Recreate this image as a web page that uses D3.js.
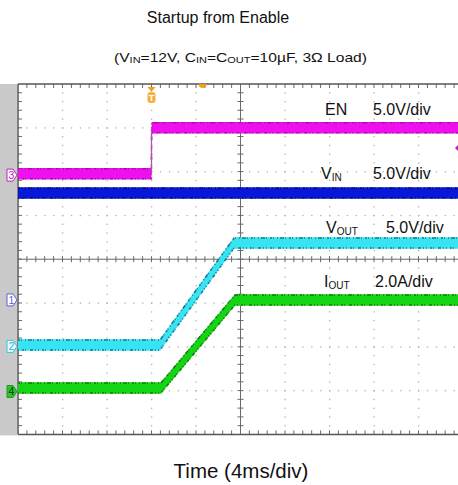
<!DOCTYPE html>
<html><head><meta charset="utf-8">
<script src="https://cdn.jsdelivr.net/npm/d3@7"></script>
<style>body{margin:0;background:#fff}svg{display:block;font-family:"Liberation Sans",Arial,sans-serif}</style>
</head><body><svg id="c" width="458" height="485"></svg>
<script>
// ---------- data ----------
const titleText = "Startup from Enable";
const xAxisLabel = "Time (4ms/div)";
const msPerDiv = 4;
const divsX = 10, divsY = 8;
const channelKeys = ["EN", "VIN", "VOUT", "IOUT"];
const channelNumbers = ["3", "1", "2", "4"];
const channelScales = [5.0, 5.0, 5.0, 2.0];          // units per division
const channelScaleLabels = ["5.0V/div", "5.0V/div", "5.0V/div", "2.0A/div"];
const channelGround = [1.92, -0.93, -1.99, -3.02];  // ground marker, divisions from centre
const triggerTime = 12;      // ms
const triggerLevel = 3.1;    // V on EN
const enTime = [0, 11.99, 12.01, 40];
const enValues = [0.15, 0.15, 5.4, 5.4];
const vinTime = [0, 40];
const vinValues = [12.2, 12.2];
const voutTime = [0, 12.76, 19.42, 40];
const voutValues = [0.15, 0.15, 11.8, 11.8];
const ioutTime = [0, 12.85, 19.5, 40];
const ioutValues = [0.16, 0.16, 4.18, 4.18];

// ---------- layout ----------
const svg = d3.select("#c");
const L = 18, T = 84, B = 434.4, R = 18 + 44.5 * divsX;
const x = d3.scaleLinear().domain([0, msPerDiv * divsX]).range([L, R]);
const yd = d3.scaleLinear().domain([-divsY / 2, divsY / 2]).range([B, T]);
const xd = d3.scaleLinear().domain([0, divsX]).range([L, R]);

svg.append("rect").attr("x", 0).attr("y", T).attr("width", L - 1).attr("height", B - T + 1).attr("fill", "#c9c9c9");

svg.append("defs").append("clipPath").attr("id", "clip")
  .append("rect").attr("x", L).attr("y", T).attr("width", 458 - L).attr("height", B - T);

const grid = svg.append("g");
const dotColor = "#b0b0b0";
for (let i = 1; i < divsX; i++) {
  if (i === divsX / 2) continue;
  for (let k = 1; k < divsY * 5; k++) {
    grid.append("rect").attr("x", xd(i) - 0.5).attr("y", yd(-4 + k / 5) - 0.5).attr("width", 1.3).attr("height", 1.3).attr("fill", dotColor);
  }
}
for (let j = -3; j <= 3; j++) {
  if (j === 0) continue;
  for (let k = 1; k < divsX * 5; k++) {
    grid.append("rect").attr("x", xd(k / 5) - 0.5).attr("y", yd(j) - 0.5).attr("width", 1.3).attr("height", 1.3).attr("fill", dotColor);
  }
}
const axisCol = "#6a6a6a";
grid.append("line").attr("x1", L).attr("x2", 458).attr("y1", yd(0)).attr("y2", yd(0)).attr("stroke", axisCol).attr("stroke-width", 1);
grid.append("line").attr("x1", xd(5)).attr("x2", xd(5)).attr("y1", T).attr("y2", B).attr("stroke", axisCol).attr("stroke-width", 1);
for (let k = 1; k < divsX * 5; k++) {
  grid.append("line").attr("x1", xd(k / 5)).attr("x2", xd(k / 5)).attr("y1", yd(0) - 3).attr("y2", yd(0) + 3).attr("stroke", axisCol);
  grid.append("line").attr("x1", xd(k / 5)).attr("x2", xd(k / 5)).attr("y1", T).attr("y2", T + 4).attr("stroke", axisCol);
  grid.append("line").attr("x1", xd(k / 5)).attr("x2", xd(k / 5)).attr("y1", B - 4).attr("y2", B).attr("stroke", axisCol);
}
for (let k = 1; k < divsY * 5; k++) {
  grid.append("line").attr("y1", yd(-4 + k / 5)).attr("y2", yd(-4 + k / 5)).attr("x1", xd(5) - 3).attr("x2", xd(5) + 3).attr("stroke", axisCol);
  grid.append("line").attr("y1", yd(-4 + k / 5)).attr("y2", yd(-4 + k / 5)).attr("x1", L).attr("x2", L + 4).attr("stroke", axisCol);
}
grid.append("line").attr("x1", L).attr("x2", 458).attr("y1", T).attr("y2", T).attr("stroke", "#555").attr("stroke-width", 1.5);
grid.append("line").attr("x1", L).attr("x2", 458).attr("y1", B).attr("y2", B).attr("stroke", "#555").attr("stroke-width", 1.5);
grid.append("line").attr("x1", L).attr("x2", L).attr("y1", T).attr("y2", B).attr("stroke", "#555").attr("stroke-width", 1.5);

// ---------- traces (noise bands of constant vertical thickness) ----------
const traces = [
  {t: enTime, v: enValues, ch: 0, core: "#ee10ee", edge: "#8a1080"},
  {t: vinTime, v: vinValues, ch: 1, core: "#0818d8", edge: "#0a0a60"},
  {t: voutTime, v: voutValues, ch: 2, core: "#38e4f2", edge: "#0b5070"},
  {t: ioutTime, v: ioutValues, ch: 3, core: "#14d414", edge: "#0b5a0b"}
];
const half = 5.8;
const tg = svg.append("g").attr("clip-path", "url(#clip)");
traces.forEach(tr => {
  const pts = tr.t.map((t, i) => [t, tr.v[i]]);
  const yv = d => yd(channelGround[tr.ch] + d[1] / channelScales[tr.ch]);
  const area = d3.area().x(d => x(d[0])).y0(d => yv(d) + half).y1(d => yv(d) - half);
  tg.append("path").attr("d", area(pts)).attr("fill", tr.core);
  [-half + 0.8, half - 0.8].forEach((off, j) => {
    const ln = d3.line().x(d => x(d[0])).y(d => yv(d) + off);
    tg.append("path").attr("d", ln(pts)).attr("fill", "none").attr("stroke", tr.edge).attr("stroke-width", 1.6)
      .attr("stroke-dasharray", j ? "1 3 2 1 1 4 3 2 1 2" : "2 1 1 3 1 2 4 1 1 3").attr("opacity", 0.75);
  });
});
tg.append("line").attr("x1", x(triggerTime)).attr("x2", x(triggerTime))
  .attr("y1", yd(channelGround[0] + enValues[0] / 5)).attr("y2", yd(channelGround[0] + enValues[2] / 5))
  .attr("stroke", "#b050b0").attr("stroke-width", 1);

// ---------- markers ----------
const tx = x(triggerTime);
svg.append("path").attr("d", `M${tx - 4},${T + 3} L${tx + 4},${T + 3} L${tx},${T + 8} Z`).attr("fill", "#f0a020");
svg.append("rect").attr("x", tx - 4).attr("y", T + 8).attr("width", 8).attr("height", 11).attr("rx", 3).attr("fill", "#f5b040");
svg.append("text").attr("x", tx).attr("y", T + 17).attr("text-anchor", "middle").attr("font-size", 9).attr("font-weight", "bold").attr("fill", "#fff").text("T");
svg.append("path").attr("d", `M${x(16.6) - 4},${T} A4,4 0 0 0 ${x(16.6) + 4},${T} Z`).attr("fill", "#f0a020");
const tly = yd(channelGround[0] + triggerLevel / channelScales[0]);
svg.append("path").attr("d", `M459,${tly - 4} L455,${tly} L459,${tly + 4} Z`).attr("fill", "#c020c0");

const markerStyles = [
  {stroke: "#c020c0", fill: "#fff", txt: "#c020c0"},
  {stroke: "#6060d0", fill: "#fff", txt: "#6060d0"},
  {stroke: "#30c8d8", fill: "#e8fcff", txt: "#30b0c8"},
  {stroke: "#18a018", fill: "#30c030", txt: "#0a3a0a"}
];
channelNumbers.forEach((n, i) => {
  const yy = yd(channelGround[i]);
  const s = markerStyles[i];
  svg.append("path").attr("d", `M7,${yy - 6} L13,${yy - 6} L17,${yy} L13,${yy + 6} L7,${yy + 6} Z`)
    .attr("fill", s.fill).attr("stroke", s.stroke).attr("stroke-width", 1);
  svg.append("text").attr("x", 11.5).attr("y", yy + 4).attr("text-anchor", "middle").attr("font-size", 10.5).attr("fill", s.txt).text(n);
});

// ---------- labels ----------
const lblSize = 16;
function label(xp, yp, main, sub, scaleTxt, sx) {
  const t = svg.append("text").attr("x", xp).attr("y", yp).attr("font-size", lblSize).attr("fill", "#111");
  t.append("tspan").text(main);
  if (sub) t.append("tspan").attr("font-size", 10).attr("dy", 2).text(sub);
  svg.append("text").attr("x", sx).attr("y", yp).attr("font-size", lblSize).attr("fill", "#111").text(scaleTxt);
}
label(325, 115, "EN", null, channelScaleLabels[0], 373);
label(321, 179, "V", "IN", channelScaleLabels[1], 373);
label(326, 233, "V", "OUT", channelScaleLabels[2], 386);
label(324, 287, "I", "OUT", channelScaleLabels[3], 375);

svg.append("text").attr("x", 218).attr("y", 23).attr("text-anchor", "middle").attr("font-size", 16).attr("fill", "#111").text(titleText);
const st = svg.append("text").attr("x", 114).attr("y", 62).attr("font-size", 13.5).attr("fill", "#111")
  .attr("textLength", 253).attr("lengthAdjust", "spacingAndGlyphs");
st.append("tspan").text("(V");
st.append("tspan").attr("font-size", 9.5).attr("dy", 1).text("IN");
st.append("tspan").attr("dy", -1).text("=12V, C");
st.append("tspan").attr("font-size", 9.5).attr("dy", 1).text("IN");
st.append("tspan").attr("dy", -1).text("=C");
st.append("tspan").attr("font-size", 9.5).attr("dy", 1).text("OUT");
st.append("tspan").attr("dy", -1).text("=10µF, 3Ω Load)");
svg.append("text").attr("x", 241).attr("y", 478).attr("text-anchor", "middle").attr("font-size", 20.5).attr("fill", "#111").text(xAxisLabel);
</script></body></html>
